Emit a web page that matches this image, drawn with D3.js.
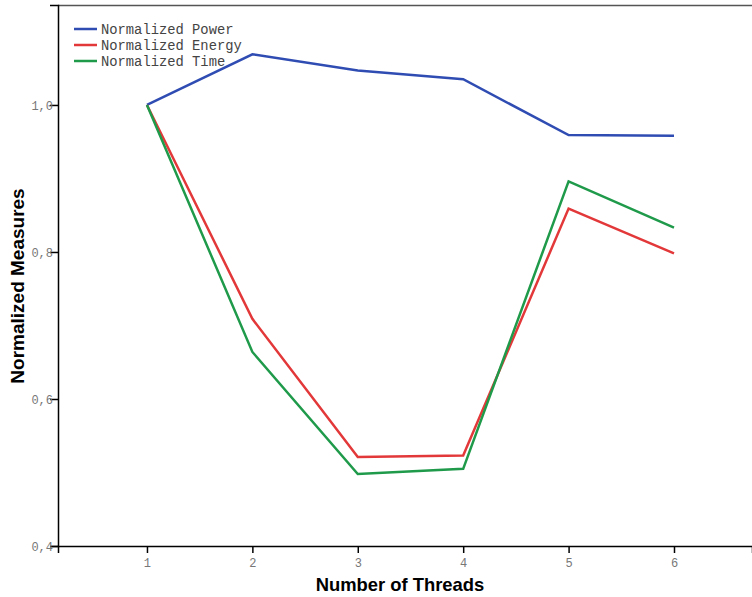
<!DOCTYPE html>
<html><head><meta charset="utf-8">
<script src="https://cdn.jsdelivr.net/npm/d3@7"></script>
<style>body{margin:0;background:#fff}</style>
</head><body>
<svg id="c" width="752" height="597"></svg>
<script>
const threads = [1, 2, 3, 4, 5, 6];
const power  = [1.000, 1.069, 1.047, 1.035, 0.959, 0.958];
const energy = [1.000, 0.709, 0.521, 0.523, 0.859, 0.798];
const time   = [1.000, 0.664, 0.498, 0.505, 0.896, 0.833];
const seriesNames = ["Normalized Power", "Normalized Energy", "Normalized Time"];
const colors = ["#2f4cb3", "#e3383a", "#1f9a4a"];
const yTicks = [0.4, 0.6, 0.8, 1.0];

const svg = d3.select("#c");
const L = 58, R = 752, T = 5, B = 546;
const x = d3.scaleLinear().domain([0.156, 6.74]).range([L, R]);
const y = d3.scaleLinear().domain([0.4, 1.136]).range([B, T]);

// top frame line
svg.append("line").attr("x1", L).attr("x2", R).attr("y1", T+0.5).attr("y2", T+0.5)
  .attr("stroke", "#555").attr("stroke-width", 1.5);

const fmt = d => d.toFixed(1).replace(".", ",");
const yAxis = svg.append("g").attr("transform", `translate(${L},0)`)
  .call(d3.axisLeft(y).tickValues(yTicks).tickFormat(fmt).tickSize(8).tickPadding(-3));
const xAxis = svg.append("g").attr("transform", `translate(0,${B})`)
  .call(d3.axisBottom(x).tickValues(threads).tickFormat(d3.format("d")).tickSize(7).tickPadding(5));
[yAxis, xAxis].forEach(g => {
  g.select(".domain").attr("stroke", "#000").attr("stroke-width", 1.5);
  g.selectAll(".tick line").attr("stroke", "#000").attr("stroke-width", 1.5);
  g.selectAll(".tick text").attr("fill", "#777").attr("font-family", "Liberation Mono, monospace").attr("font-size", 12);
});
yAxis.selectAll(".tick text").attr("dy", "0.35em");

const line = d3.line().x((d, i) => x(threads[i])).y(d => y(d));
[power, energy, time].forEach((s, k) => {
  svg.append("path").datum(s).attr("d", line).attr("fill", "none")
    .attr("stroke", colors[k]).attr("stroke-width", 2.5).attr("stroke-linejoin", "miter");
});

// legend
seriesNames.forEach((n, k) => {
  const yy = 29 + k * 16;
  svg.append("line").attr("x1", 74).attr("x2", 97).attr("y1", yy).attr("y2", yy)
    .attr("stroke", colors[k]).attr("stroke-width", 2.5);
  svg.append("text").attr("x", 101).attr("y", yy).attr("dy", "0.35em")
    .attr("font-family", "Liberation Mono, monospace").attr("font-size", 13.8).attr("fill", "#444").text(n);
});

// axis titles
svg.append("text").attr("x", 400).attr("y", 591).attr("text-anchor", "middle")
  .attr("font-family", "Liberation Sans, Arial, sans-serif").attr("font-weight", "bold").attr("font-size", 18.4)
  .attr("fill", "#000").text("Number of Threads");
svg.append("text").attr("transform", "translate(24,286) rotate(-90)").attr("text-anchor", "middle")
  .attr("font-family", "Liberation Sans, Arial, sans-serif").attr("font-weight", "bold").attr("font-size", 19)
  .attr("fill", "#000").text("Normalized Measures");
</script>
</body></html>
